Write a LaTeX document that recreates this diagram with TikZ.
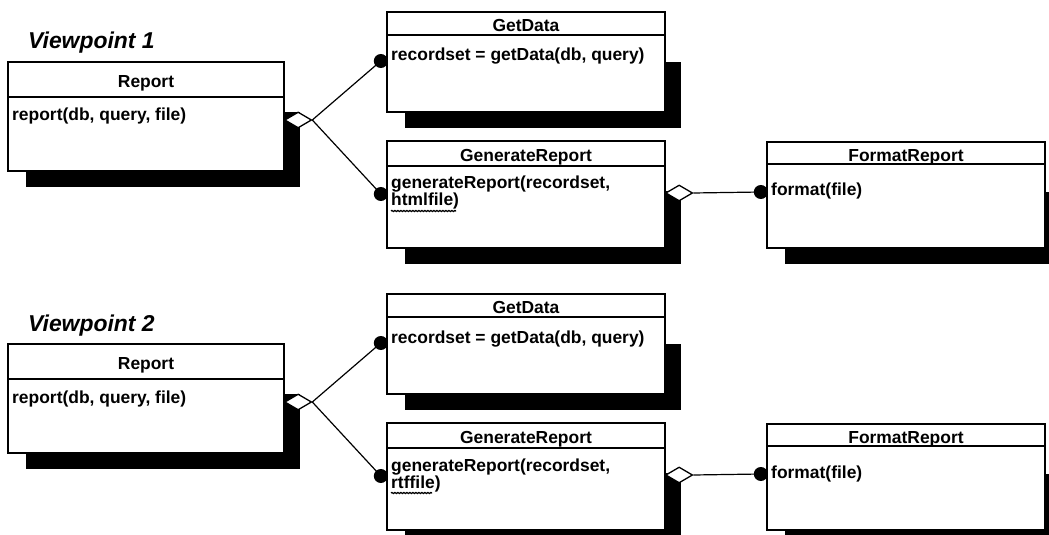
\documentclass[tikz,border=0pt]{standalone}
\usepackage{fontspec}
\setmainfont{Liberation Sans}
\usetikzlibrary{shapes.geometric,decorations.pathmorphing,backgrounds}

\tikzset{
  classbox/.style={draw=black, line width=1.3bp, fill=white, inner sep=0pt},
  classshadow/.style={fill=black},
  divider/.style={draw=black, line width=1.3bp},
  classtitle/.style={font=\bfseries\fontsize{17.5}{17}\selectfont, inner sep=0pt,
    text height=12.5bp, text depth=0pt},
  classbody/.style={font=\bfseries\fontsize{17.5}{17}\selectfont, inner sep=0pt, anchor=base west},
  heading/.style={font=\bfseries\itshape\fontsize{23}{23}\selectfont, inner sep=0pt, anchor=base west},
  link/.style={draw=black, line width=1.2bp},
  agg/.style={diamond, draw=black, fill=white, line width=1.3bp, minimum width=27bp,
    minimum height=16bp, inner sep=0pt, anchor=west},
  ball/.style={circle, fill=black, minimum size=14bp, inner sep=0pt, anchor=east},
  squiggle/.style={draw=black, line width=1.3bp,
    decorate, decoration={snake, segment length=3bp, amplitude=0.5bp}},
}

% #1 name, #2 left, #3 top, #4 right, #5 bottom, #6 divider y,
% #7 title, #8 baseline of the first body line, #9 body text
\newcommand\umlclass[9]{%
  \fill[classshadow] ({#2+18},{#3+50}) rectangle ({#4+16},{#5+16});
  \node[classbox, minimum width={#4bp-#2bp}, minimum height={#5bp-#3bp}]
    (#1) at ({(#2+#4)/2},{(#3+#5)/2}) {};
  \draw[divider] (#2,#6) -- (#4,#6);
  \node[classtitle] (#1-t) at ({(#2+#4)/2},{(#3+#6)/2+2}) {#7};
  \node[classbody] (#1-b) at ({#2+4},#8) {#9};
}

% #1 prefix, #2 viewpoint number, #3 file argument, #4 right end of its underline
\newcommand\viewpoint[4]{%
  \node[heading] (#1-head) at (28,49) {Viewpoint #2};
  \umlclass{#1-report}{8}{62}{284}{171}{97}{Report}{121}{report(db, query, file)}
  \umlclass{#1-get}{387}{12}{665}{112}{35}{GetData}{61}{recordset = getData(db, query)}
  \umlclass{#1-gen}{387}{141}{665}{248}{166}{GenerateReport}{189}{generateReport(recordset,}
  \node[classbody] (#1-gen-b2) at (391,206) {#3};
  \umlclass{#1-fmt}{767}{142}{1045}{248}{164}{FormatReport}{196}{format(file)}
  \draw[squiggle] (391,211) -- (#4,211);
  % aggregation diamonds and association ends
  \node[agg] (#1-agg1) at (284,120) {};
  \node[agg] (#1-agg2) at (665,193) {};
  \node[ball] (#1-get-end) at (388,61) {};
  \node[ball] (#1-gen-end) at (388,194) {};
  \node[ball] (#1-fmt-end) at (768,192) {};
  \begin{scope}[on background layer]
    \draw[link] (#1-agg1.east) -- (#1-get-end.center);
    \draw[link] (#1-agg1.east) -- (#1-gen-end.center);
    \draw[link] (#1-agg2.east) -- (#1-fmt-end.center);
  \end{scope}
}

\begin{document}
\begin{tikzpicture}[x=1bp, y=-1bp]
  \useasboundingbox (0,0) rectangle (1049,535);
  \clip (0,0) rectangle (1049,535);
  \viewpoint{vp1}{1}{htmlfile)}{456}
  \begin{scope}[yshift=-282bp]
    \viewpoint{vp2}{2}{rtffile)}{432}
  \end{scope}
\end{tikzpicture}
\end{document}
